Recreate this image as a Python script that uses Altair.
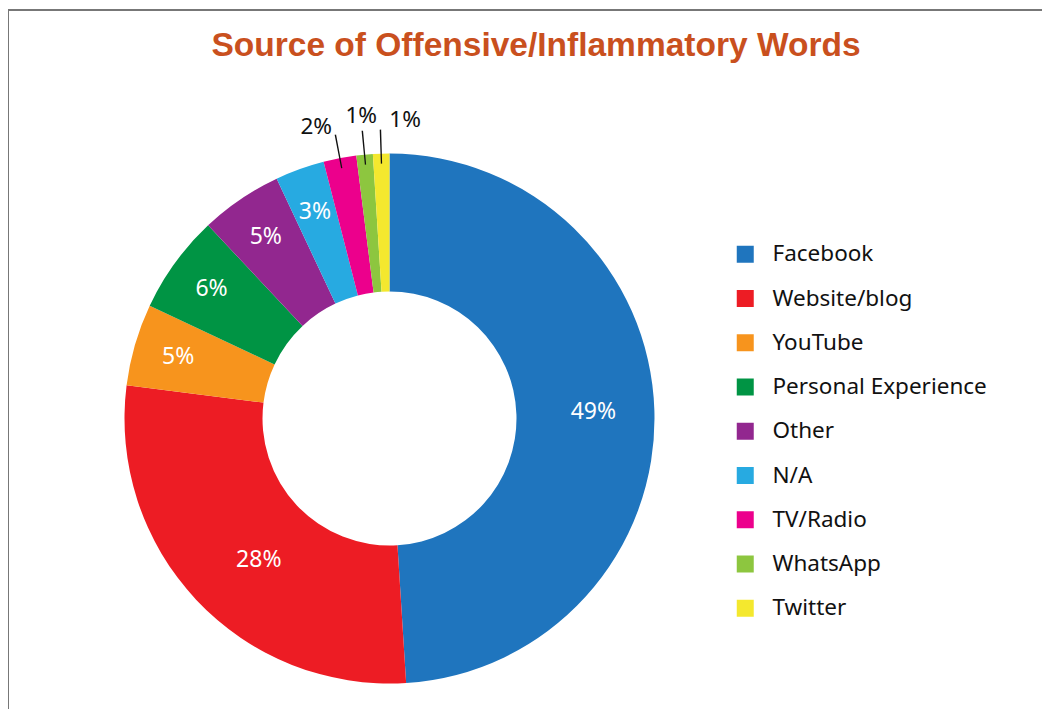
import altair as alt
import pandas as pd
import math

sources = ["Facebook", "Website/blog", "YouTube", "Personal Experience", "Other",
           "N/A", "TV/Radio", "WhatsApp", "Twitter"]
values = [49, 28, 5, 6, 5, 3, 2, 1, 1]
colors = ["#1F75BE", "#ED1C24", "#F7941D", "#009444", "#92278F",
          "#27AAE1", "#EC008C", "#8DC63F", "#F4E82E"]

df = pd.DataFrame({
    "source": sources,
    "value": values,
    "idx": list(range(len(sources))),
    "label": [f"{v}%" for v in values],
})

CX, CY = 381.5, 409.5  # donut centre inside the view
theta_scale = alt.Scale(domain=[0, 100], range=[0, 2 * math.pi])

base = alt.Chart().encode(x=alt.value(CX), y=alt.value(CY))

arcs = base.mark_arc(innerRadius=127, outerRadius=265).encode(
    theta=alt.Theta("start:Q", scale=theta_scale, stack=None),
    theta2="cum:Q",
    color=alt.Color(
        "source:N",
        scale=alt.Scale(domain=sources, range=colors),
        sort=sources,
        legend=alt.Legend(
            title=None, orient="none", legendX=726, legendY=234,
            symbolType="square", symbolSize=289, symbolStrokeWidth=0,
            symbolOpacity=1, labelFont="Noto Sans", labelFontSize=22.5,
            labelColor="#111111", labelOffset=16, rowPadding=21.25, padding=0,
            labelLimit=400,
        ),
    ),
)


def inner(filt, radius, dx=0, dy=0):
    return base.mark_text(radius=radius, font="Noto Sans", fontSize=23, color="white",
                          dx=dx, dy=dy).encode(
        theta=alt.Theta("mid:Q", scale=theta_scale, stack=None),
        text="label:N",
    ).transform_filter(filt)


leaders = base.mark_arc(innerRadius=255, outerRadius=289, color="#111111").encode(
    theta=alt.Theta("l1:Q", scale=theta_scale, stack=None),
    theta2="l2:Q",
).transform_filter("datum.value < 3")


def outer(name, dx, dy):
    return base.mark_text(radius=300, font="Noto Sans", fontSize=22.5, color="#111111",
                          dx=dx, dy=dy).encode(
        theta=alt.Theta("mid:Q", scale=theta_scale, stack=None),
        text="label:N",
    ).transform_filter(alt.datum.source == name)


border_top = alt.Chart().mark_rule(color="#777777", strokeWidth=2).encode(
    x=alt.value(-1), x2=alt.value(1042), y=alt.value(1))
border_left = alt.Chart().mark_rule(color="#777777", strokeWidth=1.5).encode(
    x=alt.value(0), y=alt.value(1), y2=alt.value(720))

chart = alt.layer(
    arcs,
    inner(alt.datum.source == "Facebook", 204),
    inner(alt.datum.source == "Website/blog", 193, 10, 9),
    inner("datum.value >= 3 && datum.value < 20", 220),
    leaders,
    outer("TV/Radio", -17, 3), outer("WhatsApp", 0, -4), outer("Twitter", 25, 1),
    border_top, border_left,
    data=df,
).transform_window(
    cum="sum(value)", sort=[alt.SortField("idx")], frame=[None, 0]
).transform_calculate(
    start="datum.cum - datum.value",
    mid="datum.cum - datum.value / 2",
    l1="datum.cum - datum.value / 2 - 0.04",
    l2="datum.cum - datum.value / 2 + 0.04",
).properties(
    width=1034, height=700,
    autosize=alt.AutoSizeParams(type="none"),
    padding={"left": 0, "top": 1, "right": 0, "bottom": 0},
    title=alt.TitleParams(
        "Source of Offensive/Inflammatory Words",
        font="Liberation Sans", fontWeight="bold", fontSize=33.5, color="#C9501E",
        anchor="middle", frame="group", offset=-54, dx=11,
    ),
).configure_view(stroke=None)

chart.save("out.html", embed_options={"renderer": "svg", "actions": False})
